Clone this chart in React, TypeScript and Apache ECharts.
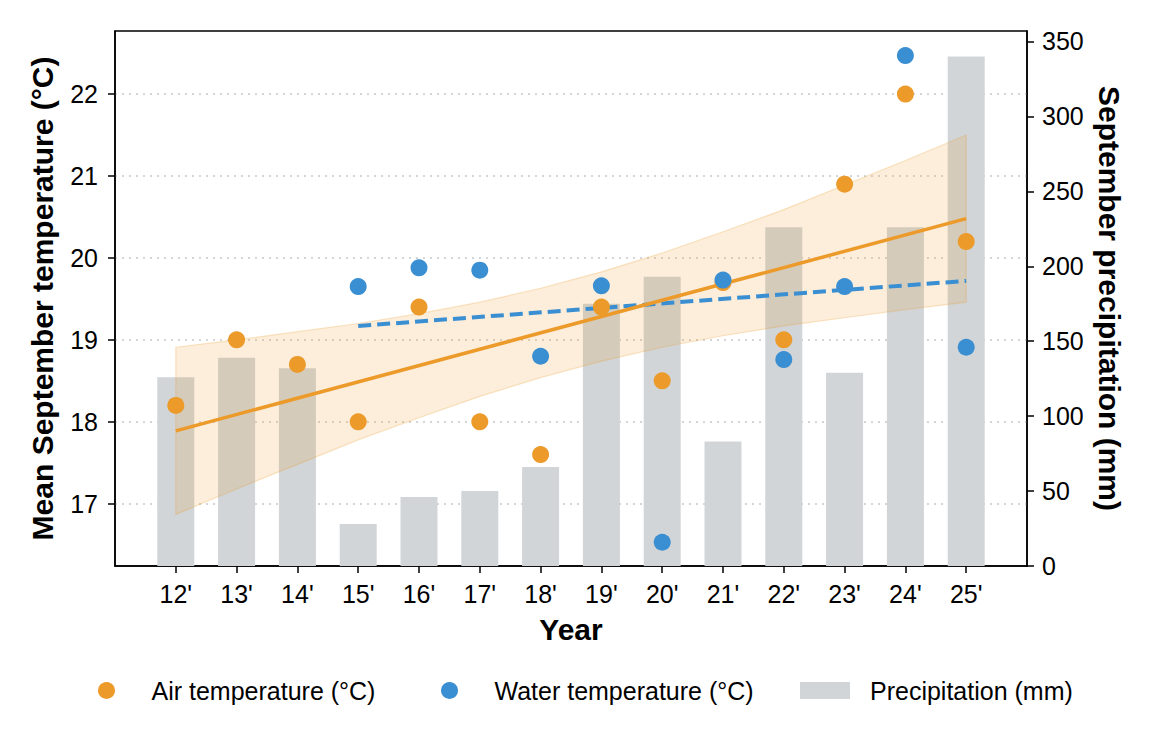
import React, { useEffect, useRef } from "react";
import * as echarts from "echarts";

// ---- data ----
const years = ["12'", "13'", "14'", "15'", "16'", "17'", "18'", "19'", "20'", "21'", "22'", "23'", "24'", "25'"];
const airTemp = [18.2, 19.0, 18.7, 18.0, 19.4, 18.0, 17.6, 19.4, 18.5, 19.7, 19.0, 20.9, 22.0, 20.2];
const waterYears = ["15'", "16'", "17'", "18'", "19'", "20'", "21'", "22'", "23'", "24'", "25'"];
const waterTemp = [19.65, 19.88, 19.85, 18.8, 19.66, 16.53, 19.73, 18.76, 19.65, 22.47, 18.91];
const precip = [126, 139, 132, 28, 46, 50, 66, 175, 193, 83, 226, 129, 226, 340];
// regression band of air temperature (upper / lower per year)
const airBandUpper = [18.91, 19.0, 19.1, 19.2, 19.32, 19.46, 19.63, 19.83, 20.06, 20.32, 20.59, 20.89, 21.19, 21.5];
const airBandLower = [16.87, 17.18, 17.48, 17.78, 18.05, 18.31, 18.54, 18.74, 18.91, 19.05, 19.17, 19.27, 19.37, 19.46];
// trend line end points
const airTrendYears = ["12'", "25'"];
const airTrend = [17.89, 20.48];
const waterTrendYears = ["15'", "25'"];
const waterTrend = [19.17, 19.72];
// tick labels
const tempTicks = [17, 18, 19, 20, 21, 22];
const precipTicks = [0, 50, 100, 150, 200, 250, 300, 350];
// legend entries
const legendNames = ["Air temperature (°C)", "Water temperature (°C)", "Precipitation (mm)"];
const legendIcons = ["circle", "circle", "rect"];
const legendLefts = [93, 436, 795];

const categories = ["", ...years, ""];

const ORANGE = "#EC9A29";
const BLUE = "#3A8FD2";
const GREY = "#D1D5D8";
const FONT = "'Liberation Sans', Arial, Helvetica, sans-serif";

export default function App() {
  const ref = useRef<HTMLDivElement>(null);
  useEffect(() => {
    if (!ref.current) return;
    const chart = echarts.init(ref.current, null, { renderer: "svg" });
    const option: any = {
      animation: false,
      backgroundColor: "#fff",
      textStyle: { fontFamily: FONT, color: "#000" },
      grid: {
        left: 115,
        right: 127,
        top: 31,
        bottom: 179,
        show: true,
        borderColor: "#000",
        borderWidth: 1.5,
        backgroundColor: "transparent",
        outerBoundsMode: "none",
      },
      legend: legendNames.map((n, i) => ({
        left: legendLefts[i],
        top: 673,
        itemWidth: 50,
        itemHeight: 17,
        textStyle: { fontSize: 25, color: "#000", fontFamily: FONT, padding: [0, 0, 0, 15] },
        data: [{ name: n, icon: legendIcons[i] }],
      })),
      xAxis: {
        type: "category",
        data: categories,
        boundaryGap: false,
        name: "Year",
        nameLocation: "middle",
        nameGap: 48,
        nameTextStyle: { fontSize: 30, fontWeight: "bold", color: "#000", fontFamily: FONT },
        axisLine: { show: true, lineStyle: { color: "#000", width: 1.5 } },
        axisTick: {
          show: true,
          length: 7,
          lineStyle: { color: "#000", width: 1.5 },
          interval: (_i: number, v: string) => v !== "",
        },
        axisLabel: { interval: 0, fontSize: 25, color: "#000", margin: 15, fontFamily: FONT },
        splitLine: { show: false },
      },
      yAxis: [
        {
          type: "value",
          min: 16.24,
          max: 22.77,
          position: "left",
          name: "Mean September temperature (°C)",
          nameLocation: "middle",
          nameGap: 58,
          nameTextStyle: { fontSize: 30, fontWeight: "bold", color: "#000", fontFamily: FONT },
          axisLine: { show: true, lineStyle: { color: "#000", width: 1.5 } },
          axisTick: { show: true, length: 7, lineStyle: { color: "#000", width: 1.5 }, customValues: tempTicks },
          axisLabel: { fontSize: 25, color: "#000", margin: 17, customValues: tempTicks, fontFamily: FONT },
          splitLine: { show: true, lineStyle: { color: "#C8C8C8", width: 1.5, type: [2, 5] } },
        },
        {
          type: "value",
          min: 0,
          max: 357,
          position: "right",
          name: "September precipitation (mm)",
          nameLocation: "middle",
          nameRotate: -90,
          nameGap: 67,
          nameTextStyle: { fontSize: 30, fontWeight: "bold", color: "#000", fontFamily: FONT },
          axisLine: { show: true, lineStyle: { color: "#000", width: 1.5 } },
          axisTick: { show: true, length: 7, lineStyle: { color: "#000", width: 1.5 }, customValues: precipTicks },
          axisLabel: { fontSize: 25, color: "#000", margin: 15, customValues: precipTicks, fontFamily: FONT },
          splitLine: { show: false },
        },
      ],
      series: [
        {
          name: "Precipitation (mm)",
          type: "bar",
          yAxisIndex: 1,
          barWidth: 37,
          itemStyle: { color: GREY },
          z: 1,
          data: years.map((y, i) => [y, precip[i]]),
        },
        {
          name: "band",
          type: "custom",
          yAxisIndex: 0,
          z: 2,
          silent: true,
          data: years.map((y, i) => [y, airBandUpper[i], airBandLower[i]]),
          renderItem: (params: any, api: any) => {
            if (params.dataIndex !== 0) return null;
            const up = years.map((y, i) => api.coord([categories.indexOf(y), airBandUpper[i]]));
            const lo = years.map((y, i) => api.coord([categories.indexOf(y), airBandLower[i]])).reverse();
            return {
              type: "polygon",
              shape: { points: [...up, ...lo] },
              style: { fill: "rgba(236,154,41,0.17)", stroke: "rgba(236,154,41,0.25)", lineWidth: 1.2 },
            };
          },
        },
        {
          name: "water trend",
          type: "line",
          yAxisIndex: 0,
          z: 3,
          symbol: "none",
          lineStyle: { color: BLUE, width: 4, type: [13, 6] },
          data: waterTrendYears.map((y, i) => [y, waterTrend[i]]),
        },
        {
          name: "air trend",
          type: "line",
          yAxisIndex: 0,
          z: 3,
          symbol: "none",
          lineStyle: { color: ORANGE, width: 3.5 },
          data: airTrendYears.map((y, i) => [y, airTrend[i]]),
        },
        {
          name: "Air temperature (°C)",
          type: "scatter",
          yAxisIndex: 0,
          z: 4,
          symbolSize: 17,
          itemStyle: { color: ORANGE, opacity: 1 },
          data: years.map((y, i) => [y, airTemp[i]]),
        },
        {
          name: "Water temperature (°C)",
          type: "scatter",
          yAxisIndex: 0,
          z: 5,
          symbolSize: 17,
          itemStyle: { color: BLUE, opacity: 1 },
          data: waterYears.map((y, i) => [y, waterTemp[i]]),
        },
      ],
    };
    chart.setOption(option);
    return () => chart.dispose();
  }, []);
  return (
    <div
      ref={ref}
      style={{ position: "absolute", left: 0, top: 0, width: 1154, height: 745, background: "#fff" }}
    />
  );
}
